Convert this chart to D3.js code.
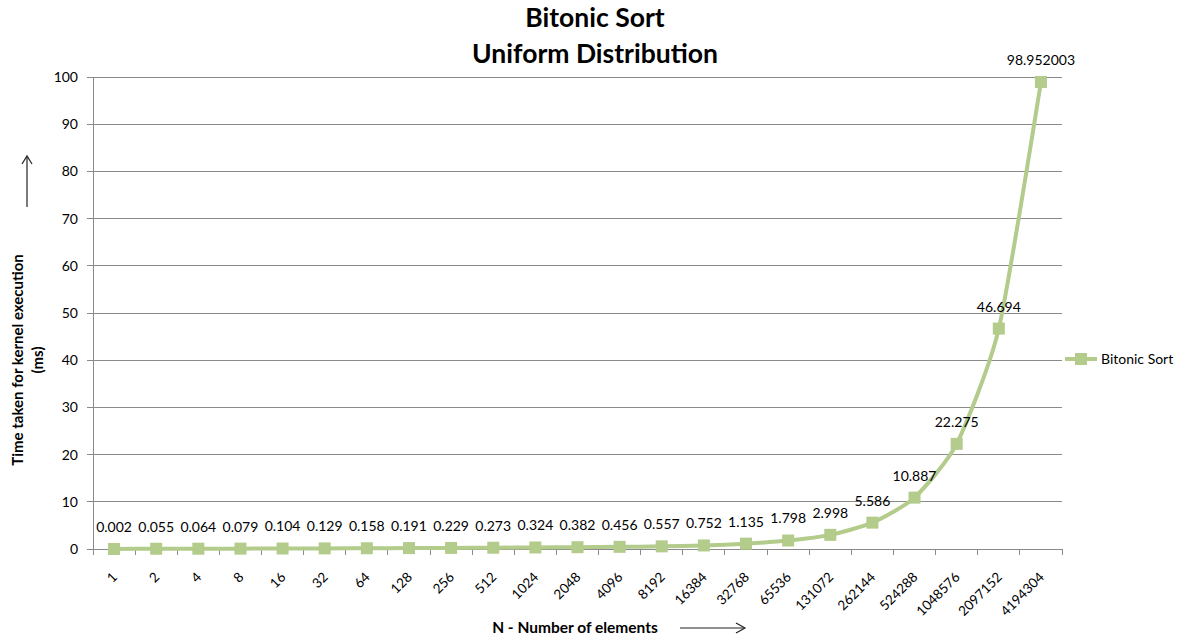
<!DOCTYPE html>
<html><head><meta charset="utf-8">
<script src="https://cdn.jsdelivr.net/npm/d3@7"></script>
<style>
body{margin:0;background:#fff;}
text{font-family:Lato,"Open Sans",sans-serif;fill:#000;}
</style></head>
<body><svg id="c" width="1187" height="637"></svg>
<script>
const categories = ["1","2","4","8","16","32","64","128","256","512","1024","2048","4096","8192","16384","32768","65536","131072","262144","524288","1048576","2097152","4194304"];
const values = [0.002,0.055,0.064,0.079,0.104,0.129,0.158,0.191,0.229,0.273,0.324,0.382,0.456,0.557,0.752,1.135,1.798,2.998,5.586,10.887,22.275,46.694,98.952003];
const valueLabels = ["0.002","0.055","0.064","0.079","0.104","0.129","0.158","0.191","0.229","0.273","0.324","0.382","0.456","0.557","0.752","1.135","1.798","2.998","5.586","10.887","22.275","46.694","98.952003"];
const yTicks = [0,10,20,30,40,50,60,70,80,90,100];
const seriesName = "Bitonic Sort";

const svg = d3.select("#c");
const L = 93, R = 1062, T = 77, B = 549;
const green = "#b3cb8b";
const grid = "#8a8a8a";

const x = d3.scaleBand().domain(categories).range([L, R]);
const y = d3.scaleLinear().domain([0, 100]).range([B, T]);
const cx = d => x(d) + x.bandwidth() / 2;

// gridlines
svg.append("g").selectAll("line").data(yTicks).join("line")
  .attr("x1", L - 6).attr("x2", R).attr("y1", d => y(d)).attr("y2", d => y(d))
  .attr("stroke", grid).attr("stroke-width", 1).attr("shape-rendering", "crispEdges");
// y axis line
svg.append("line").attr("x1", L).attr("x2", L).attr("y1", T).attr("y2", B)
  .attr("stroke", grid).attr("shape-rendering", "crispEdges");
// y tick labels
svg.append("g").selectAll("text").data(yTicks).join("text")
  .attr("x", L - 15).attr("y", d => y(d)).attr("dy", "0.35em")
  .attr("text-anchor", "end").style("font-size", "14px").text(d => d);
// x ticks at band boundaries
const bounds = categories.map(c => x(c)).concat([R]);
svg.append("g").selectAll("line").data(bounds).join("line")
  .attr("x1", d => d).attr("x2", d => d).attr("y1", B).attr("y2", B + 6)
  .attr("stroke", grid).attr("shape-rendering", "crispEdges");
// x tick labels rotated
svg.append("g").selectAll("text").data(categories).join("text")
  .attr("transform", d => `translate(${cx(d) + 4},${B + 29}) rotate(-45)`)
  .attr("text-anchor", "end")
  .style("font-size", "13.5px").text(d => d);

// line
const line = d3.line().x((d, i) => cx(categories[i])).y(d => y(d)).curve(d3.curveCardinal.tension(0.4));
svg.append("path").datum(values).attr("d", line)
  .attr("fill", "none").attr("stroke", green).attr("stroke-width", 4);
// markers
svg.append("g").selectAll("rect").data(values).join("rect")
  .attr("x", (d, i) => cx(categories[i]) - 6).attr("y", d => y(d) - 6)
  .attr("width", 12).attr("height", 12).attr("fill", green);
// data labels
svg.append("g").selectAll("text").data(values).join("text")
  .attr("x", (d, i) => cx(categories[i])).attr("y", d => y(d) - 22).attr("dy", "0.35em")
  .attr("text-anchor", "middle").style("font-size", "14px")
  .text((d, i) => valueLabels[i]);

// titles
svg.append("text").attr("x", 595).attr("y", 27).attr("text-anchor", "middle")
  .style("font-size", "26.5px").style("font-weight", "bold").text("Bitonic Sort");
svg.append("text").attr("x", 595).attr("y", 63).attr("text-anchor", "middle")
  .style("font-size", "26.5px").style("font-weight", "bold").text("Uniform Distribution");

// y axis title
const yt = svg.append("text").attr("transform", "translate(23,360) rotate(-90)")
  .attr("text-anchor", "middle").style("font-size", "15px").style("font-weight", "bold");
yt.append("tspan").attr("x", 0).attr("dy", 0).text("Time taken for kernel execution");
yt.append("tspan").attr("x", 0).attr("dy", "1.35em").text("(ms)");
// y arrow
svg.append("line").attr("x1", 27).attr("x2", 27).attr("y1", 207).attr("y2", 157).attr("stroke", "#222").attr("stroke-width", 1.2);
svg.append("path").attr("d", "M22,164 L27,156 L32,164").attr("fill", "none").attr("stroke", "#222").attr("stroke-width", 1.2);

// x axis title
svg.append("text").attr("x", 575).attr("y", 633).attr("text-anchor", "middle")
  .style("font-size", "15.5px").style("font-weight", "bold").text("N - Number of elements");
svg.append("line").attr("x1", 680).attr("x2", 744).attr("y1", 628).attr("y2", 628).attr("stroke", "#222").attr("stroke-width", 1.2);
svg.append("path").attr("d", "M736,623 L745,628 L736,633").attr("fill", "none").attr("stroke", "#222").attr("stroke-width", 1.2);

// legend
svg.append("line").attr("x1", 1065).attr("x2", 1097).attr("y1", 359).attr("y2", 359).attr("stroke", green).attr("stroke-width", 4);
svg.append("rect").attr("x", 1075).attr("y", 353).attr("width", 12).attr("height", 12).attr("fill", green);
svg.append("text").attr("x", 1101).attr("y", 359).attr("dy", "0.35em").style("font-size", "14px").text(seriesName);
</script></body></html>
